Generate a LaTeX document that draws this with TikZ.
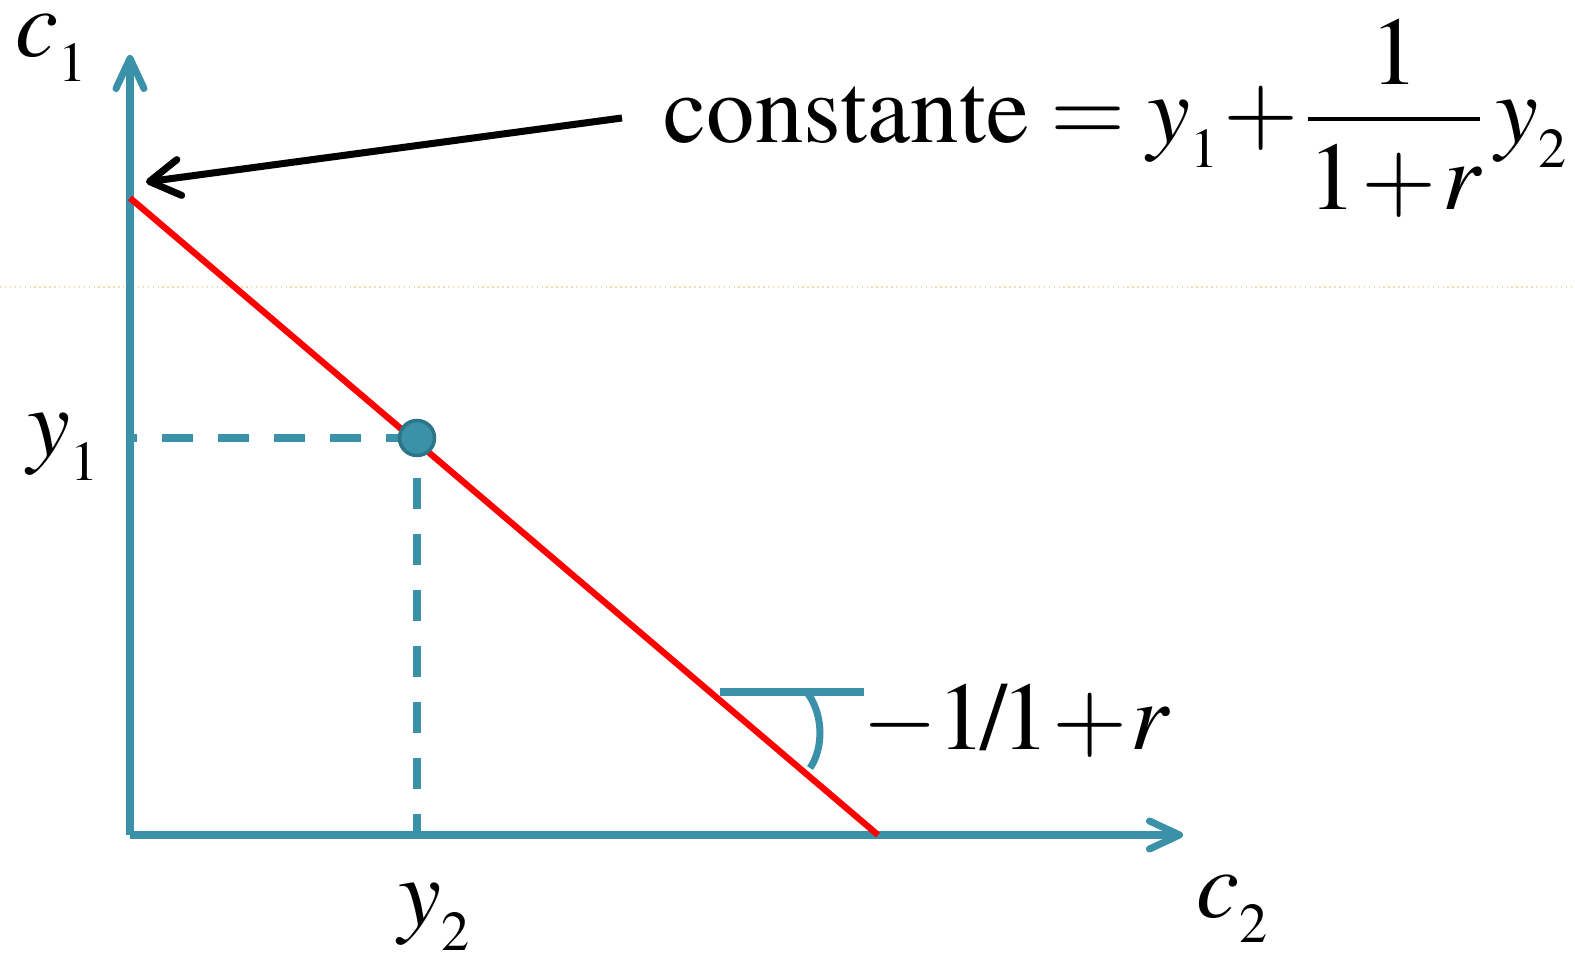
\documentclass[tikz,border=0pt]{standalone}
\usepackage{amsmath}
\usepackage[T1]{fontenc}
\usepackage{mathptmx}
\usetikzlibrary{arrows.meta}
\definecolor{cteal}{HTML}{3B92A8}
\definecolor{cdark}{HTML}{2C7487}
\definecolor{cred}{HTML}{FF0000}
\definecolor{cguide}{HTML}{F6D8AA}
\newcommand{\isub}[2]{{\itshape #1}\raisebox{-0.25em}{\fontsize{16}{16}\selectfont #2}}
\tikzset{
  axisline/.style={cteal,line width=2pt,-{Straight Barb[length=0.3cm,width=0.28cm,round]}},
  dashline/.style={cteal,line width=2pt,dash pattern=on 0.31cm off 0.25cm},
  budget/.style={cred,line width=1.8pt},
  lbl/.style={inner sep=0pt,anchor=base west,font=\fontsize{27.5}{33}\selectfont},
}

\begin{document}
\begin{tikzpicture}[x=0.01cm,y=-0.01cm]
      \useasboundingbox (0,0) rectangle (1575,962);
      \draw[cguide,line width=0.4pt,densely dotted] (0,287) -- (1575,287);
      % axes
      \coordinate (O) at (130,835);
      \coordinate (ytip) at (130,55);
      \coordinate (xtip) at (1183,835);
      \draw[axisline] (O) -- (ytip);
      \draw[axisline] (O) -- (xtip);
      % budget line and endowment point
      \coordinate (A) at (130,198);
      \coordinate (B) at (878,835);
      \draw[budget] (A) -- (B);
      \draw[dashline] (417,438) -- (O |- 417,438);
      \draw[dashline,dash phase=0.16cm] (417,438) -- (O -| 417,438);
      \node[circle,fill=cteal,draw=cdark,line width=1pt,minimum size=0.35cm,inner sep=0pt] (pt) at (417,438) {};
      % slope mark
      \draw[cteal,line width=2pt] (720,692) -- (864,692);
      \draw[cteal,line width=2pt] (805,690) .. controls (824,712) and (824,748) .. (810,768);
      % labels
      \node[lbl] (c1) at (15,57) {\isub{c}{1}};
      \node[lbl] (y1) at (27,456) {\isub{y}{1}};
      \node[lbl] (y2) at (398,926) {\isub{y}{2}};
      \node[lbl] (c2) at (1196,918) {\isub{c}{2}};
      \node[lbl] (slope) at (862,750) {\medmuskip=0.5mu$-\text{1\kern-0.06em/\kern-0.06em1}+\text{\itshape r}$};
      \node[lbl] (eq) at (663,143) {\thickmuskip=4mu\medmuskip=1mu%
        $\text{constante} = \text{\isub{y}{1}} + \dfrac{\raisebox{-0.07cm}{1}}{\text{1}+\text{\itshape r}}\,\text{\isub{y}{2}}$};
      \coordinate (tail) at (622,118);
      \coordinate (icpt) at (146,182);
      \draw[line width=2pt,-{Straight Barb[length=0.3cm,width=0.36cm,round]}] (tail) -- (icpt);
\end{tikzpicture}
\end{document}
